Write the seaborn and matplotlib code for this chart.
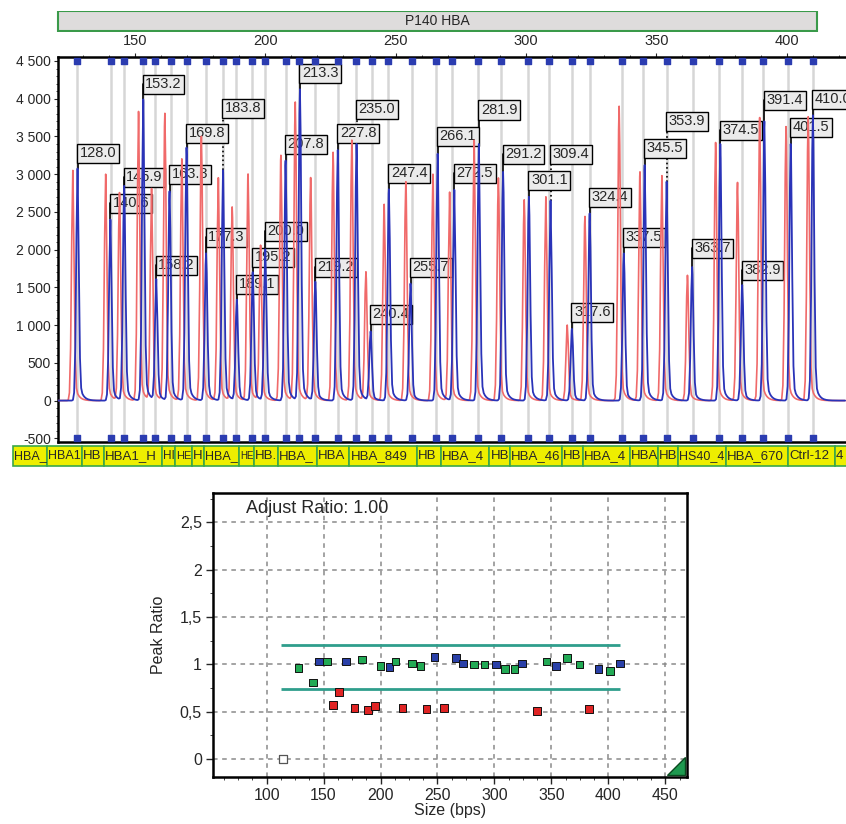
import numpy as np
import pandas as pd
import matplotlib
matplotlib.use("Agg")
import matplotlib.pyplot as plt
import seaborn as sns
from matplotlib.patches import Rectangle, Polygon
from matplotlib.ticker import MultipleLocator, FuncFormatter

# ---- data ----
# labelled blue peaks (sample) : size in bp and height in RFU
peak_size = [128.0, 140.6, 145.9, 153.2, 158.2, 163.3, 169.8, 177.3, 183.8, 189.1,
             195.2, 200.0, 207.8, 213.3, 219.2, 227.8, 235.0, 240.4, 247.4, 255.7,
             266.1, 272.5, 281.9, 291.2, 301.1, 309.4, 317.6, 324.4, 337.5, 345.5,
             353.9, 363.7, 374.5, 382.9, 391.4, 401.5, 410.0]
blue_height = [3075, 2400, 2840, 3990, 1600, 2770, 3350, 1950, 3050, 1330,
               1700, 2000, 3180, 4120, 1570, 3320, 3400, 910, 2800, 1550,
               3270, 2790, 3400, 3030, 2700, 2650, 950, 2480, 1950, 3120,
               2900, 1770, 3400, 1530, 3700, 3400, 3780]
# red trace (reference), peaks sit a little to the left
red_size = [126.2, 138.8, 144.1, 151.4, 156.4, 161.5, 168.0, 175.5, 182.0, 187.3,
            193.4, 198.2, 206.0, 211.5, 217.4, 226.0, 233.2, 238.6, 245.6, 253.9,
            264.3, 270.7, 280.1, 289.4, 299.3, 307.6, 315.8, 322.6, 335.7, 343.7,
            352.1, 361.9, 372.7, 381.1, 389.6, 399.7, 408.2]
red_height = [3050, 3000, 2750, 3830, 2800, 3800, 3200, 3500, 2950, 2560,
              3000, 2050, 3250, 3950, 2950, 3290, 3450, 1700, 2600, 2900,
              3000, 2760, 3450, 2950, 2660, 2700, 1000, 2440, 3900, 3030,
              2980, 1660, 3420, 2890, 3750, 3630, 3760]
# expected bin positions (grey lines / blue markers)
bin_pos = [127.9, 140.8, 145.8, 153.0, 157.7, 163.7, 169.8, 177.1, 183.9, 188.7,
           195.0, 200.0, 207.9, 212.9, 219.2, 228.0, 234.8, 240.8, 246.9, 256.1,
           265.5, 271.7, 281.7, 290.4, 300.6, 308.9, 317.7, 324.5, 336.7, 345.0,
           353.9, 363.9, 374.0, 382.7, 391.0, 400.6, 410.0]
# height where each size label box sits
label_y = [3277, 2615, 2959, 4192, 1795, 2999, 3542, 2164, 3875, 1541,
           1899, 2244, 3397, 4337, 1767, 3542, 3862, 1145, 3014, 1767,
           3503, 3014, 3849, 3264, 2920, 3264, 1170, 2694, 2164, 3344,
           3702, 2019, 3582, 1727, 3980, 3622, 3993]

# ratio plot
peak_ratio = [0.96, 0.81, 1.03, 1.03, 0.57, 0.71, 1.03, 0.54, 1.05, 0.52,
              0.56, 0.98, 0.97, 1.03, 0.54, 1.01, 0.98, 0.53, 1.08, 0.54,
              1.07, 1.01, 1.00, 1.00, 1.00, 0.95, 0.95, 1.01, 0.51, 1.03,
              0.98, 1.07, 1.00, 0.53, 0.95, 0.93, 1.01]
probe_class = ["test", "test", "ref", "test", "del", "del", "ref", "del", "test", "del",
               "del", "test", "ref", "test", "del", "test", "test", "del", "ref", "del",
               "ref", "ref", "test", "test", "ref", "test", "test", "ref", "del", "test",
               "ref", "test", "test", "del", "ref", "test", "ref"]
empty_size = [114.0]
empty_ratio = [0.0]
limit_low, limit_high = 0.74, 1.2

# probe name strip under the electropherogram
probe_edges = [103.2, 116.1, 129.6, 138.2, 160.5, 165.3, 171.7, 176.5, 190.0, 195.6,
               204.7, 219.9, 232.2, 258.2, 267.4, 285.9, 293.8, 313.7, 321.7, 339.9,
               350.7, 358.4, 376.7, 400.6, 418.5, 426.0]
probe_names = ["HBA_", "HBA1", "HB", "HBA1_H", "HI", "HE", "H", "HBA_", "HE", "HB.",
               "HBA_", "HBA", "HBA_849", "HB", "HBA_4", "HB", "HBA_46", "HB", "HBA_4", "HBA",
               "HB", "HS40_4", "HBA_670", "Ctrl-12", "4"]

# ---- style ----
sns.set_style("white")
plt.rcParams['font.family'] = ['Liberation Sans', 'DejaVu Sans']

fig = plt.figure(figsize=(8.46, 8.24), dpi=100)
x_full = (98.2, 422.7)

# header bar
ax_h = fig.add_axes([0, 0.9615, 1, 0.0251])
ax_h.set_xlim(*x_full)
ax_h.set_ylim(0, 1)
ax_h.axis('off')
ax_h.add_patch(Rectangle((120.5, 0.02), 291.0, 0.96, fc='#dedcdc', ec='#3a9a4a', lw=1.5))
ax_h.text(266.0, 0.5, "P140 HBA", ha='center', va='center', fontsize=10)

# electropherogram
ax = fig.add_axes([0.0682, 0.4632, 0.9318, 0.4680])
ax.set_xlim(120.4, 422.7)
ax.set_ylim(-553, 4557)


def trace(sizes, heights):
    xs = np.sort(np.concatenate([np.arange(120.4, 422.7, 0.45), sizes]))
    ys = np.zeros_like(xs)
    for p, h in zip(sizes, heights):
        d = xs - p
        core = np.exp(-0.5 * (d / 0.48) ** 2)
        tail = 0.14 * np.where(d > 0, np.exp(-d / 1.3), np.exp(-0.5 * (d / 0.6) ** 2))
        ys += h * (core + tail) / 1.14
    return xs, ys


for b in bin_pos:
    ax.axvline(b, color='#d6d6d6', lw=1.8, zorder=1)

rx, ry = trace(red_size, red_height)
bx, by = trace(peak_size, blue_height)
sns.lineplot(x=rx, y=ry, estimator=None, sort=False, color='#f06a6a', lw=1.2, ax=ax, zorder=4)
sns.lineplot(x=bx, y=by, estimator=None, sort=False, color='#2a33b8', lw=1.3, ax=ax, zorder=5)

top_mark, bottom_mark = 4500, -500
ax.scatter(bin_pos, [top_mark] * len(bin_pos), marker='s', s=16, color='#2b3cb0', zorder=6, clip_on=False)
ax.scatter(bin_pos, [bottom_mark] * len(bin_pos), marker='s', s=16, color='#2b3cb0', zorder=6, clip_on=False)

for s, h, ly in zip(peak_size, blue_height, label_y):
    style = ':' if ly - h > 450 else '-'
    ax.plot([s, s], [h, ly], color='black', lw=1.2, ls=style, zorder=2)
    ax.annotate(f"{s:.1f}", (s, ly), xytext=(1.5, 0), textcoords='offset points',
                ha='left', va='center', fontsize=10.5, zorder=3,
                bbox=dict(boxstyle='square,pad=0.18', fc='#ebebeb', ec='black', lw=1))

ax.xaxis.tick_top()
ax.set_xticks(range(150, 401, 50))
ax.xaxis.set_minor_locator(MultipleLocator(10))
ax.tick_params(axis='x', which='major', top=True, bottom=False, length=3, labelsize=10.5, pad=3)
ax.tick_params(axis='x', which='minor', top=True, bottom=False, length=1.5)
ax.set_yticks(range(-500, 4501, 500))
ax.yaxis.set_major_formatter(FuncFormatter(lambda v, p: f"{int(v):,}".replace(",", " ")))
ax.yaxis.set_minor_locator(MultipleLocator(100))
ax.tick_params(axis='y', which='major', left=True, length=3, labelsize=10, pad=2)
ax.tick_params(axis='y', which='minor', left=True, length=1.5)
for side in ['left', 'top', 'bottom']:
    ax.spines[side].set_color('black')
    ax.spines[side].set_linewidth(1.8)
ax.spines['right'].set_visible(False)
ax.set_xlabel("")
ax.set_ylabel("")

# probe name strip
ax_b = fig.add_axes([0, 0.4336, 1, 0.0263])
ax_b.set_xlim(*x_full)
ax_b.set_ylim(0, 1)
ax_b.axis('off')
renderer = fig.canvas.get_renderer()
for left, right, name in zip(probe_edges[:-1], probe_edges[1:], probe_names):
    r = Rectangle((left, 0.03), right - left, 0.94, fc='#eeee00', ec='#3aa84a', lw=1.2)
    ax_b.add_patch(r)
    t = ax_b.text(left + 0.4, 0.48, name, ha='left', va='center', fontsize=9.5)
    t.set_clip_path(r)
    # only shrink a name that would run into the next box's name
    box_px = ax_b.transData.transform((right, 0))[0] - ax_b.transData.transform((left, 0))[0]
    while t.get_window_extent(renderer).width > box_px - 0.5 and t.get_fontsize() > 6:
        t.set_fontsize(t.get_fontsize() - 0.5)

# ratio plot
ax2 = fig.add_axes([0.2518, 0.0570, 0.5603, 0.3447])
ax2.set_xlim(53, 469)
ax2.set_ylim(-0.19, 2.81)
ax2.set_xticks(range(100, 451, 50))
ax2.set_yticks([0, 0.5, 1, 1.5, 2, 2.5])
ax2.set_yticklabels(['0', '0,5', '1', '1,5', '2', '2,5'])
ax2.xaxis.set_minor_locator(MultipleLocator(12.5))
ax2.yaxis.set_minor_locator(MultipleLocator(0.25))
ax2.grid(True, which='major', color='#8a8a8a', linestyle=(0, (3, 3)), lw=1.1)
ax2.hlines([limit_high, limit_low], 113, 410, color='#2f9e8c', lw=2, zorder=3)

df = pd.DataFrame({"size": peak_size, "ratio": peak_ratio, "cls": probe_class})
sns.scatterplot(data=df, x="size", y="ratio", hue="cls", marker='s', s=30,
                palette={"test": "#22aa55", "ref": "#2a40a8", "del": "#e02424"},
                edgecolor='#111111', linewidth=0.7, legend=False, ax=ax2, zorder=4)
ax2.scatter(empty_size, empty_ratio, marker='s', s=26, fc='white', ec='#555555', lw=0.9, zorder=4)

ax2.text(0.07, 0.944, "Adjust Ratio: 1.00", transform=ax2.transAxes, ha='left', va='center', fontsize=13)
ax2.add_patch(Polygon([(0.958, 0.008), (0.995, 0.008), (0.995, 0.07)], closed=True,
                      transform=ax2.transAxes, fc='#1e9a50', ec='#0b4a20', lw=1, zorder=5))

ax2.tick_params(axis='both', which='major', direction='out', length=5, width=1, labelsize=11.5, pad=3,
                bottom=True, left=True)
ax2.tick_params(axis='both', which='minor', direction='out', length=2.5, bottom=True, left=True)
for side in ax2.spines:
    ax2.spines[side].set_color('black')
    ax2.spines[side].set_linewidth(1.8)
ax2.set_xlabel("Size (bps)", fontsize=11.5, labelpad=0)
ax2.set_ylabel("Peak Ratio", fontsize=11.5, labelpad=10)

fig.savefig("out.png", dpi=100)
